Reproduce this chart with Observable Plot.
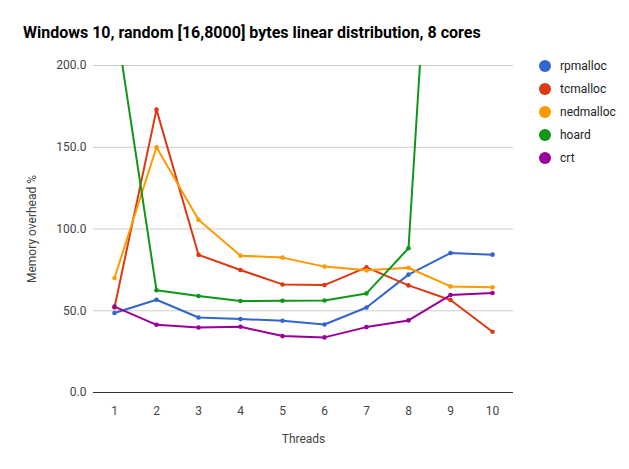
<!DOCTYPE html>
<html>
<head>
<meta charset="utf-8">
<script src="https://cdn.jsdelivr.net/npm/d3@7"></script>
<script src="https://cdn.jsdelivr.net/npm/@observablehq/plot@0.6"></script>
<style>
  html, body { margin: 0; padding: 0; background: #fff; }
  #wrap { position: relative; width: 629px; height: 469px; font-family: Roboto, "Noto Sans", sans-serif; }
  #title { position: absolute; left: 23px; top: 23px; font-size: 16px; font-weight: bold; color: #000; white-space: nowrap; }
  #legend { position: absolute; left: 539px; top: 54px; }
  .item { display: flex; align-items: center; height: 23px; font-size: 12px; color: #222; }
  .sw { width: 12px; height: 12px; border-radius: 50%; margin-right: 9px; }
</style>
</head>
<body>
<div id="wrap">
  <div id="chart"></div>
  <div id="title">Windows 10, random [16,8000] bytes linear distribution, 8 cores</div>
  <div id="legend"></div>
</div>
<script>
const threads = [1, 2, 3, 4, 5, 6, 7, 8, 9, 10];
const seriesNames = ["rpmalloc", "tcmalloc", "nedmalloc", "hoard", "crt"];
const seriesColors = ["#3366cc", "#dc3912", "#ff9900", "#109618", "#990099"];
const rpmalloc  = [48.6, 56.7, 45.9, 44.9, 43.9, 41.6, 52.0, 72.1, 85.3, 84.3];
const tcmalloc  = [52.0, 173.0, 84.2, 74.9, 66.1, 65.7, 76.5, 65.5, 56.6, 37.2];
const nedmalloc = [70.0, 150.0, 105.7, 83.7, 82.5, 77.0, 74.7, 76.3, 64.9, 64.3];
const hoard     = [232.0, 62.5, 59.0, 56.0, 56.1, 56.3, 60.6, 88.2, 500.0, 480.0];
const crt       = [52.5, 41.4, 39.8, 40.2, 34.5, 33.7, 40.0, 44.1, 59.6, 60.9];
const yTicks = [0, 50, 100, 150, 200];

const valuesBySeries = [rpmalloc, tcmalloc, nedmalloc, hoard, crt];
const data = [];
seriesNames.forEach((name, i) => {
  threads.forEach((t, j) => data.push({series: name, threads: t, value: valuesBySeries[i][j]}));
});

const colorScale = {domain: seriesNames, range: seriesColors};

const plot = Plot.plot({
  width: 629,
  height: 469,
  marginLeft: 93,
  marginRight: 116,
  marginTop: 65,
  marginBottom: 77,
  style: {fontFamily: "Roboto, 'Noto Sans', sans-serif", fontSize: "12px", background: "#fff"},
  x: {domain: [0.5, 10.5], ticks: threads, label: "Threads"},
  y: {domain: [0, 200], ticks: yTicks, label: "Memory overhead %"},
  color: colorScale,
  marks: [
    Plot.ruleY(yTicks.filter(d => d > 0), {stroke: "#cccccc", strokeWidth: 1}),
    Plot.ruleY([0], {stroke: "#333333", strokeWidth: 1}),
    Plot.axisX({ticks: threads, tickSize: 0, tickPadding: 14, tickFormat: d => String(d), fill: "#444",
      label: "Threads", labelAnchor: "center", labelArrow: "none", labelOffset: 50, color: "#222"}),
    Plot.axisY({ticks: yTicks, tickSize: 0, tickPadding: 7, tickFormat: d => d.toFixed(1), fill: "#444",
      label: "Memory overhead %", labelAnchor: "center", labelArrow: "none", labelOffset: 66, color: "#222"}),
    Plot.line(data, {x: "threads", y: "value", z: "series", stroke: "series", strokeWidth: 2, clip: true}),
    Plot.dot(data, {x: "threads", y: "value", fill: "series", r: 2.3, clip: true})
  ]
});
document.getElementById("chart").appendChild(plot);

const legend = document.getElementById("legend");
seriesNames.forEach((name, i) => {
  const row = document.createElement("div");
  row.className = "item";
  const sw = document.createElement("span");
  sw.className = "sw";
  sw.style.background = seriesColors[i];
  const lab = document.createElement("span");
  lab.textContent = name;
  row.appendChild(sw);
  row.appendChild(lab);
  legend.appendChild(row);
});
</script>
</body>
</html>
